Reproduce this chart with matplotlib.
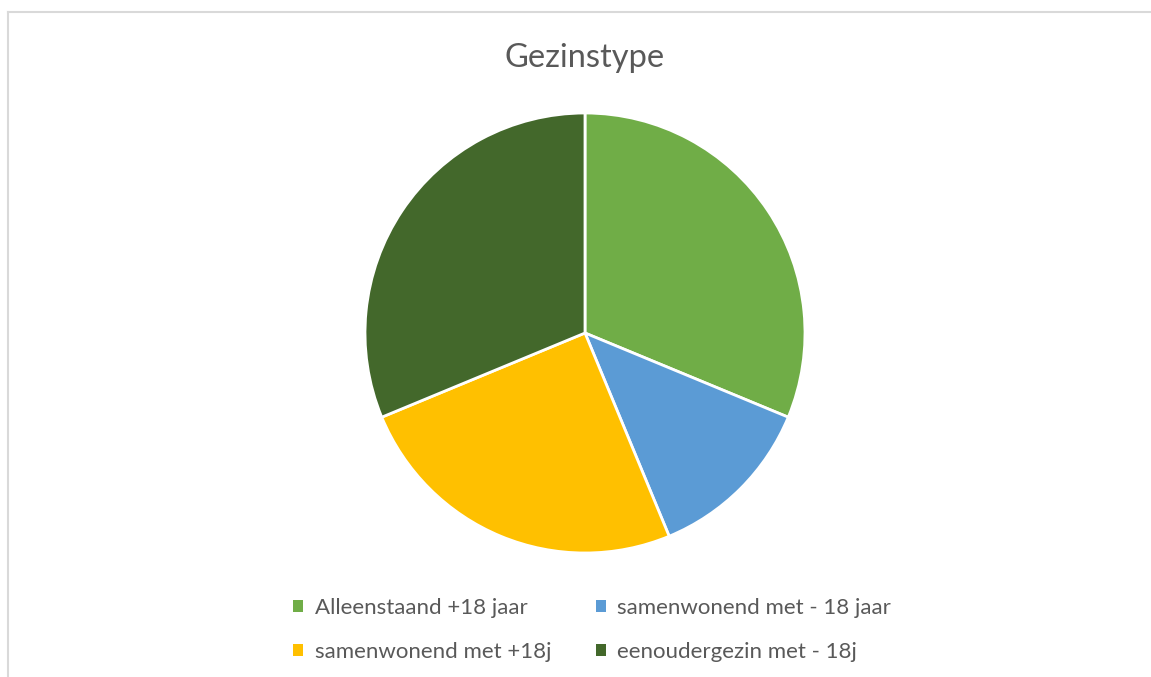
import matplotlib
matplotlib.use("Agg")
import matplotlib.pyplot as plt
from matplotlib.lines import Line2D

categories = ["Alleenstaand +18 jaar", "samenwonend met - 18 jaar",
              "samenwonend met +18j", "eenoudergezin met - 18j"]
values = [5, 2, 4, 5]
colors = ["#70AD47", "#5B9BD5", "#FFC000", "#43682B"]

plt.rcParams['font.family'] = ['Lato', 'DejaVu Sans']

W, H = 1151, 677
fig = plt.figure(figsize=(W / 100, H / 100), dpi=100)
fig.patch.set_facecolor("white")

# chart border (top and left visible)
fig.add_artist(Line2D([8 / W, 1.01], [1 - 12 / H, 1 - 12 / H], color="#D9D9D9", lw=1.5))
fig.add_artist(Line2D([8 / W, 8 / W], [-0.01, 1 - 12 / H], color="#D9D9D9", lw=1.5))

cx, cy, r = 585, 333, 220
ax = fig.add_axes([(cx - r) / W, (H - cy - r) / H, 2 * r / W, 2 * r / H])
wedges, _ = ax.pie(values, colors=colors, startangle=90, counterclock=False,
                   radius=1, wedgeprops=dict(edgecolor="white", linewidth=2))
ax.set_xlim(-1.0, 1.0)
ax.set_ylim(-1.0, 1.0)
ax.set_aspect("equal")
ax.axis("off")
for w in wedges:
    w.set_clip_on(False)

fig.text(585 / W, 1 - 58 / H, "Gezinstype", ha="center", va="center",
         fontsize=23.5, color="#595959")

order = [0, 2, 1, 3]
leg = fig.legend([wedges[i] for i in order], [categories[i] for i in order],
                 ncol=2, loc="center",
                 bbox_to_anchor=(592 / W, 1 - 630 / H), frameon=False,
                 fontsize=16, labelcolor="#595959", handlelength=0.45,
                 handleheight=0.45, handletextpad=0.5, columnspacing=2.0,
                 labelspacing=1.1)
for h in leg.legend_handles:
    h.set_edgecolor("none")

fig.savefig("out.png", dpi=100)
